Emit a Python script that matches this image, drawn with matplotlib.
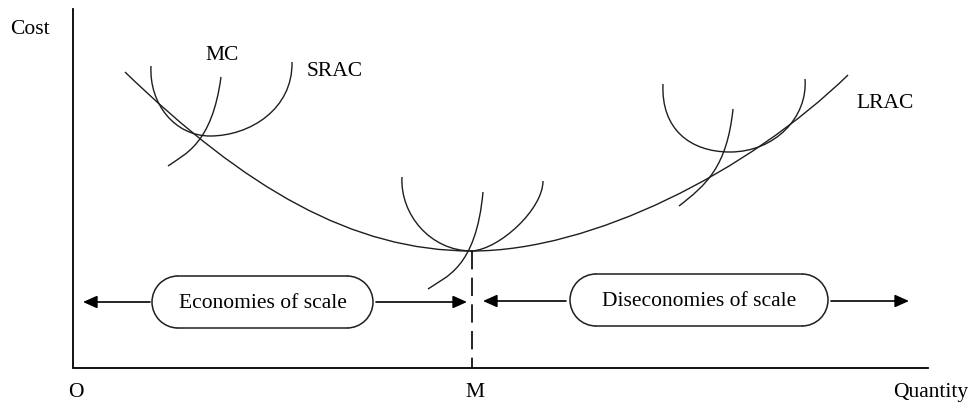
import matplotlib
matplotlib.use('Agg')
import matplotlib.pyplot as plt
from matplotlib.path import Path
from matplotlib.patches import PathPatch, Arc, FancyArrowPatch

plt.rcParams['font.family'] = ['Liberation Serif', 'DejaVu Serif']

# coordinates are picture pixels (x to the right, y downward)
# curves: cubic bezier chains -> start, ctrl1, ctrl2, end, ctrl1, ctrl2, end ...
lrac_x = [125, 245, 352, 472, 592, 748, 848]
lrac_y = [73, 189, 252, 252, 252, 173, 76]

srac_left_x = [151, 149, 175, 210, 250, 293, 292]
srac_left_y = [67, 105, 137, 137, 137, 110, 63]
srac_mid_x = [402, 400, 430, 472, 500, 543, 543]
srac_mid_y = [178, 215, 252, 252, 250, 210, 182]
srac_right_x = [663, 661, 690, 730, 775, 808, 805]
srac_right_y = [85, 130, 153, 153, 153, 118, 80]

mc_left_x = [168, 185, 212, 221]
mc_left_y = [167, 155, 145, 78]
mc_mid_x = [428, 445, 476, 483]
mc_mid_y = [290, 278, 270, 193]
mc_right_x = [679, 706, 727, 733]
mc_right_y = [207, 186, 168, 110]

# axes (L shape) and the M line
axis_x = [73, 73, 928]
axis_y = [10, 369, 369]
m_x = 472
m_y = [252, 369]

# arrows: tail x, tip x, y
arrow_tail = [150, 376, 566, 831]
arrow_tip = [83, 467, 483, 909]
arrow_y = [303, 303, 302, 302]

# rounded boxes
box_labels = ['Economies of scale', 'Diseconomies of scale']
box_left = [152, 570]
box_right = [373, 828]
box_top = [277, 275]
box_bottom = [329, 327]

# free labels
labels = ['Cost', 'MC', 'SRAC', 'LRAC', 'O', 'M', 'Quantity']
label_x = [30, 222, 335, 885, 76, 475, 931]
label_y = [30, 56, 72, 103, 393, 393, 393]

LC = '#1e1e1e'
FS = 15.5

fig = plt.figure(figsize=(9.71, 4.06), dpi=100)
ax = fig.add_axes([0, 0, 1, 1])
ax.set_xlim(0, 971); ax.set_ylim(406, 0); ax.axis('off')


def bezier(xs, ys, lw=1.0):
    verts = list(zip(xs, ys))
    codes = [Path.MOVETO] + [Path.CURVE4] * (len(verts) - 1)
    ax.add_patch(PathPatch(Path(verts, codes), fill=False, lw=lw,
                           edgecolor=LC, capstyle='butt'))


for xs, ys in [(lrac_x, lrac_y), (srac_left_x, srac_left_y),
               (srac_mid_x, srac_mid_y), (srac_right_x, srac_right_y),
               (mc_left_x, mc_left_y), (mc_mid_x, mc_mid_y),
               (mc_right_x, mc_right_y)]:
    bezier(xs, ys)

ax.plot(axis_x, axis_y, color='k', lw=1.3, solid_joinstyle='miter')
ax.plot([m_x, m_x], m_y, color='k', lw=1.2, dashes=(11, 5))

for x0, x1, y in zip(arrow_tail, arrow_tip, arrow_y):
    ax.add_patch(FancyArrowPatch((x0, y), (x1, y),
                                 arrowstyle='-|>,head_length=0.85,head_width=0.38',
                                 mutation_scale=10, color='k', lw=1.2,
                                 shrinkA=0, shrinkB=0))

# stadium shaped boxes: two half circles joined by straight lines
for lab, l, r, t, b in zip(box_labels, box_left, box_right, box_top, box_bottom):
    h = b - t
    rad = h / 2
    cy = (t + b) / 2
    ax.add_patch(Arc((l + rad, cy), h, h, theta1=90, theta2=270,
                     edgecolor=LC, lw=1.1))
    ax.add_patch(Arc((r - rad, cy), h, h, theta1=-90, theta2=90,
                     edgecolor=LC, lw=1.1))
    ax.plot([l + rad, r - rad], [t, t], color=LC, lw=1.1)
    ax.plot([l + rad, r - rad], [b, b], color=LC, lw=1.1)
    ax.text((l + r) / 2, cy + 1, lab, ha='center', va='center', fontsize=FS)

for s, x, y in zip(labels, label_x, label_y):
    ax.text(x, y, s, ha='center', va='center', fontsize=FS)

fig.savefig('out.png', dpi=100)
